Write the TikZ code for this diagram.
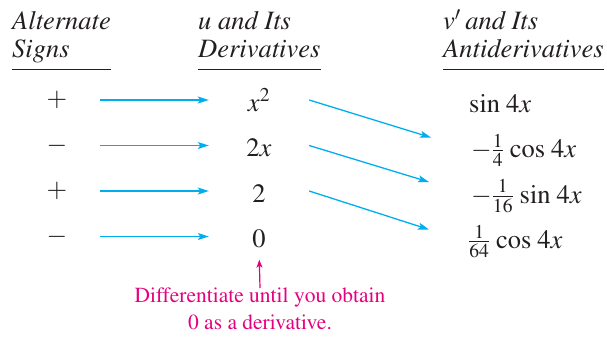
\documentclass[tikz,border=0pt]{standalone}
\usepackage[T1]{fontenc}
\usepackage{mathptmx}
\usetikzlibrary{arrows.meta}
\definecolor{ink}{RGB}{35,31,32}
\definecolor{flow}{RGB}{0,174,239}
\definecolor{hint}{RGB}{230,0,126}
\tikzset{head/.style={align=left,inner xsep=0pt,inner ysep=2.6pt,anchor=south west,
 font=\fontsize{26.5}{28}\selectfont\itshape,text=ink},
 rule/.style={draw=ink,line width=0.9pt},
 sgn/.style={inner sep=0pt,minimum width=86pt,font=\fontsize{26.5}{28}\selectfont,text=ink},
 der/.style={inner sep=0pt,minimum width=100pt,text height=22pt,text depth=0pt,
 font=\fontsize{26.5}{28}\selectfont,text=ink},
 anti/.style={der,minimum width=0pt,anchor=west},
 arr/.style={-{Stealth[length=11pt,width=7pt,inset=2.5pt]},draw=flow,line width=1.3pt},
 note/.style={align=center,inner sep=0pt,anchor=north,font=\fontsize{21.5}{27}\selectfont,text=hint},
 up/.style={-{Stealth[length=8pt,width=6pt,inset=2pt]},draw=hint,line width=1.2pt}}
\begin{document}
\begin{tikzpicture}[x=1pt,y=-1pt]
\useasboundingbox (0,0) rectangle (607,338);
% column heads
\node[head] (hs) at (12,69) {Alternate\\Signs\strut};
\node[head] (hu) at (198,69) {u and Its\\Derivatives\strut};
\node[head] (hv) at (443,69) {$v'$\,and Its\\Antiderivatives\strut};
\draw[rule] (hs.south west)--(hs.south east);
\draw[rule] (hu.south west)--(hu.south east);
\draw[rule] (hv.south west)--(hv.south east);
% signs
\node[sgn] (s1) at (57,100) {$+$};
\node[sgn] (s2) at (57,145.5) {$-$};
\node[sgn] (s3) at (57,191) {$+$};
\node[sgn] (s4) at (57,236.5) {$-$};
% u and its derivatives
\node[der] (u1) at (259,100) {$x^2$};
\node[der] (u2) at (259,145.5) {$2x$};
\node[der] (u3) at (259,191) {$2$};
\node[der] (u4) at (259,236.5) {$0$};
% v' and its antiderivatives
\node[anti] (v1) at (469,101) {$\sin\,4x$};
\node[anti] (v2) at (471,146.5) {$-\frac{1}{4}\,\cos\,4x$};
\node[anti] (v3) at (471,192) {$-\frac{1}{16}\,\sin\,4x$};
\node[anti] (v4) at (468,237.5) {$\frac{1}{64}\,\cos\,4x$};
\draw[arr] (s1)--(u1);
\draw[arr] (s2)--(u2);
\draw[arr] (s3)--(u3);
\draw[arr] (s4)--(u4);
\draw[arr] (u1.east)--([xshift=-40pt,yshift=9pt]v2.west);
\draw[arr] (u2.east)--([xshift=-42pt,yshift=10pt]v3.west);
\draw[arr] (u3.east)--([xshift=-39pt,yshift=8pt]v4.west);
% hint
\node[note] (n) at (260,288) {Differentiate until you obtain\\0 as a derivative.};
\draw[up,shorten >=12pt] (n.north)--(u4.south);
\end{tikzpicture}
\end{document}
